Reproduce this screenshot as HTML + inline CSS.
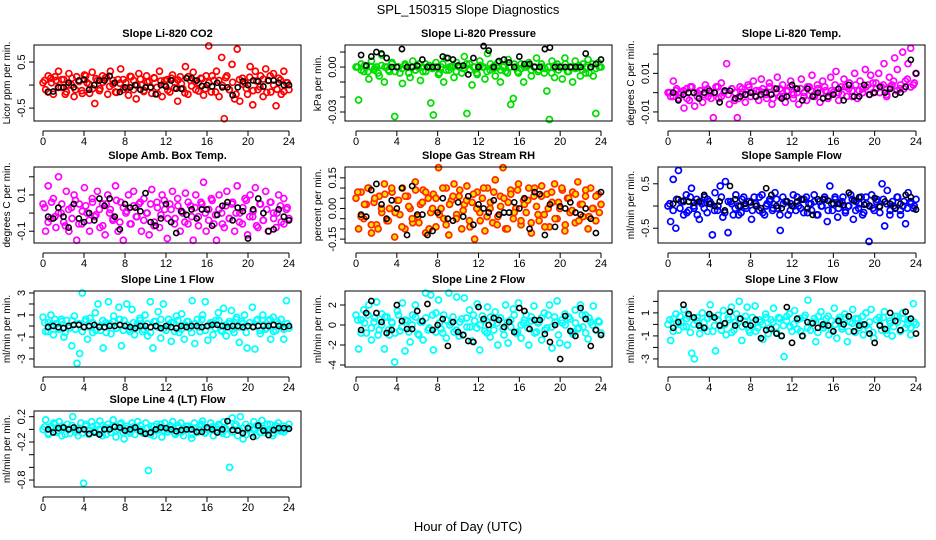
<!DOCTYPE html>
<html><head><meta charset="utf-8">
<style>
html,body{margin:0;padding:0;background:#fff;}
svg{display:block;font-family:"Liberation Sans",sans-serif;}
</style></head>
<body>
<svg id="chart" width="936" height="540" viewBox="0 0 936 540">
<rect x="0" y="0" width="936" height="540" fill="#fff"/>
<text x="468" y="14" text-anchor="middle" font-size="13">SPL_150315  Slope Diagnostics</text>
<text x="468" y="531" text-anchor="middle" font-size="13">Hour of Day (UTC)</text>
</svg>
<script>
const co2Vals=[0.05,-0.1,0.2,0.15,-0.2,0.1,0.3,-0.05,0.12,-0.15,0.25,0.0,-0.25,0.18,0.08,-0.12,0.22,0.05,-0.18,0.28,-0.4,0.1,-0.08,0.2,0.15,-0.2,0.3,0.02,-0.15,0.12,0.35,-0.1,0.05,-0.22,0.18,0.1,-0.3,0.25,0.0,-0.12,0.2,0.08,-0.18,0.15,-0.05,0.3,-0.25,0.1,0.12,-0.15,0.22,0.05,-0.35,0.18,-0.08,0.4,-0.2,0.1,0.28,-0.1,0.05,0.15,-0.22,0.2,0.85,-0.15,0.1,0.3,-0.25,0.6,-0.73,0.2,-0.1,0.45,-0.3,0.78,-0.35,0.15,0.05,-0.2,0.4,-0.43,0.3,-0.1,0.2,-0.25,0.35,0.1,-0.15,0.25,-0.45,0.15,-0.2,0.3,0.05,-0.1];
const co2Core=[0.1,-0.15,0.05,0.18,-0.05,0.12,-0.2,0.0,0.15,-0.1,0.08,-0.18,0.2,0.02,-0.08,0.14,-0.12,0.06,0.17,-0.03,0.1,-0.16,0.04,0.12,-0.07,0.19,-0.1,0.0,0.13,-0.14,0.07,-0.04,0.16,-0.19,0.09,0.01,-0.11,0.15,-0.06,0.11,0.03,-0.17,0.18,-0.02,0.08,-0.13,0.14,-0.08,0.05,0.2,-0.15,0.1,-0.01,0.16,-0.1,0.06,-0.2,0.12,0.02,-0.07,0.17,-0.12,0.09,-0.04,0.13,-0.16,0.2,0.0,-0.09,0.11,-0.14,0.05];
const co2Black=[-0.15,-0.14,-0.05,-0.05,0.05,-0.05,0.1,0.12,-0.1,0.0,0.1,0.1,0.2,0.05,-0.15,-0.05,-0.05,0.0,-0.1,-0.05,-0.05,-0.2,0.0,-0.03,0.1,-0.08,-0.08,0.15,0.15,0.1,-0.02,0.0,-0.03,0.05,-0.05,-0.05,-0.22,-0.05,0.08,0.0,0.1,0.08,-0.03,0.1,0.1,0.05,0.0,0.0];
const presVals=[0.0,-0.022,0.002,-0.003,0.0,-0.008,0.004,-0.002,0.0,-0.006,0.008,-0.01,0.0,-0.003,0.003,-0.033,0.0,-0.004,-0.011,0.002,0.0,-0.007,0.004,-0.002,0.0,-0.009,-0.003,0.002,0.0,-0.024,-0.032,0.003,-0.005,0.0,-0.01,0.006,-0.002,0.0,-0.007,0.003,0.0,-0.004,0.007,-0.031,0.002,-0.012,0.0,-0.005,0.004,0.0,-0.008,0.009,-0.002,0.0,-0.006,0.003,-0.01,0.0,-0.003,0.005,-0.025,-0.021,0.0,-0.004,0.002,-0.01,0.0,0.003,-0.006,0.0,0.006,-0.002,0.0,-0.004,-0.016,-0.035,0.004,-0.007,0.002,0.0,-0.008,0.006,-0.003,0.0,-0.01,0.004,0.0,-0.006,0.002,-0.004,0.005,0.0,-0.006,-0.031,0.003,0.0];
const presCore=[0.0,-0.002,0.001,-0.003,0.0,-0.001,-0.004,0.001,0.0,-0.002,0.002,-0.003,0.0,-0.001,0.001,-0.004,0.0,-0.002,0.002,0.0,-0.003,0.001,-0.001,0.0,-0.004,0.002,-0.002,0.0,0.001,-0.003,0.0,-0.001,0.002,-0.002,0.0,-0.004,0.001,0.0,-0.003,0.002,-0.001,0.0,-0.002,0.001,-0.004,0.0,0.002,-0.003,-0.001,0.0,0.001,-0.002,0.0,-0.003,0.002,-0.001,0.0,-0.004,0.001,-0.002,0.0,0.002,-0.003,0.0,-0.001,0.001,-0.002,0.0,-0.004,0.002,-0.001,0.0];
const presBlack=[0.008,0.001,0.007,0.01,0.009,0.006,0.0,0.0,0.012,0.0,0.0,0.001,0.005,0.0,0.0,0.0,0.007,0.006,0.005,0.001,0.001,-0.005,0.006,0.0,0.014,0.011,0.0,0.004,0.005,0.003,0.0,0.007,0.002,0.002,0.0,0.0,0.012,0.013,0.0,0.0,0.0,0.0,0.0,0.0,0.009,0.0,0.002,0.005];
const liTempVals=[0.0,-0.002,0.006,0.001,-0.003,0.0,-0.008,0.002,-0.004,0.003,-0.007,0.0,0.001,-0.005,0.004,-0.002,0.0,-0.013,0.003,-0.003,0.005,0.0,0.015,-0.006,0.002,-0.004,-0.013,0.003,0.0,-0.005,0.004,-0.002,0.006,0.001,-0.004,0.007,0.0,-0.003,0.005,-0.006,0.002,0.008,-0.002,0.004,-0.005,0.001,0.006,-0.003,0.002,-0.006,0.007,0.0,-0.004,0.003,0.009,-0.002,0.004,-0.005,0.006,0.001,-0.003,0.008,0.0,0.011,-0.004,0.003,0.007,-0.002,0.005,0.001,0.01,-0.003,0.006,0.002,0.012,0.004,0.009,0.0,0.005,0.01,0.003,0.015,-0.002,0.008,0.004,0.018,0.012,0.002,0.021,0.006,0.015,0.023,0.004,0.01];
const liTempCore=[0.0,-0.002,0.002,-0.001,0.001,-0.003,0.003,0.0,-0.002,0.001,-0.001,0.002,-0.003,0.0,0.003,-0.002,0.001,-0.001,0.002,0.0,-0.003,0.002,-0.001,0.003,0.0,-0.002,0.001,0.002,-0.001,0.003,-0.003,0.0,0.002,-0.002,0.001,0.003,-0.001,0.0,0.002,-0.002,0.003,0.001,-0.001,0.002,0.0,0.003,-0.002,0.001,0.004,0.0,-0.001,0.003,0.002,-0.002,0.004,0.001,0.0,0.003,-0.001,0.005,0.002,0.0,0.004,-0.001,0.003,0.006,0.001,0.004,0.002,0.007,0.003,0.005];
const liTempBlack=[0.0,-0.004,-0.001,0.0,0.0,-0.003,0.0,0.001,0.0,-0.005,0.001,0.001,-0.003,-0.002,-0.001,0.0,-0.002,-0.001,0.0,-0.001,0.002,-0.003,-0.002,0.004,0.002,-0.004,0.002,-0.002,0.0,-0.003,-0.002,-0.001,0.002,-0.004,0.004,-0.002,-0.002,0.004,-0.001,0.0,0.003,0.0,0.002,-0.001,0.0,0.003,0.017,0.01];
const boxTempVals=[0.05,-0.1,0.15,-0.03,0.08,-0.08,0.2,0.0,-0.05,0.12,-0.1,0.03,0.1,-0.15,0.05,-0.06,0.14,0.0,-0.1,0.08,-0.02,0.12,-0.08,0.05,-0.12,0.1,0.02,-0.04,0.15,-0.1,0.06,-0.15,0.0,0.1,-0.06,0.12,-0.02,0.05,-0.1,0.08,0.0,-0.12,0.13,-0.05,0.06,-0.08,0.1,0.02,-0.14,0.05,0.12,-0.03,0.08,-0.1,0.0,0.11,-0.06,0.04,-0.15,0.1,-0.02,0.06,0.17,-0.1,0.02,0.08,-0.06,-0.15,0.1,0.0,-0.08,0.12,-0.03,0.05,-0.1,0.15,0.0,-0.06,0.08,-0.12,0.1,-0.02,0.14,-0.08,0.05,-0.04,0.12,-0.1,0.06,0.0,-0.08,0.1,-0.05,0.08,0.02,-0.03];
const boxTempCore=[0.03,-0.05,0.06,-0.02,0.0,0.05,-0.07,0.02,-0.03,0.07,-0.06,0.01,0.04,-0.04,0.06,-0.01,0.02,-0.07,0.05,0.0,-0.03,0.07,-0.05,0.03,0.01,-0.06,0.04,-0.02,0.06,-0.04,0.0,0.05,-0.07,0.03,-0.01,0.07,-0.03,0.02,-0.06,0.04,0.01,-0.05,0.06,-0.02,0.03,-0.07,0.05,0.0,-0.04,0.07,-0.01,0.02,-0.06,0.04,-0.03,0.06,0.0,-0.05,0.03,0.07,-0.02,0.01,-0.07,0.05,-0.04,0.02,0.06,-0.03,0.0,0.04,-0.06,0.03];
const boxTempBlack=[-0.02,-0.03,0.03,-0.02,-0.08,0.05,-0.03,-0.05,0.0,-0.04,0.08,0.04,0.08,-0.02,-0.09,0.05,0.03,0.03,0.01,0.11,-0.05,-0.07,-0.03,0.05,-0.05,-0.11,0.01,-0.01,0.02,-0.03,0.02,0.02,-0.07,-0.01,0.04,0.06,-0.04,0.03,0.01,-0.14,0.02,0.08,0.0,-0.1,-0.09,0.02,-0.02,-0.04];
const rhVals=[0.05,-0.1,0.08,-0.05,0.02,0.1,-0.12,0.03,-0.08,0.06,-0.02,0.12,-0.06,0.0,0.08,-0.14,0.04,-0.03,0.1,-0.1,0.06,0.0,-0.07,0.13,-0.04,0.02,0.09,-0.12,0.05,-0.02,0.07,-0.09,0.2,0.0,-0.05,0.1,-0.13,0.04,0.12,-0.03,0.06,-0.1,0.02,0.11,-0.06,0.03,-0.15,0.08,-0.02,0.05,-0.11,0.1,0.0,-0.07,0.14,-0.04,0.06,0.2,-0.1,0.03,0.09,-0.05,0.0,0.12,-0.08,0.04,-0.02,0.1,-0.12,0.06,0.01,-0.06,0.11,-0.03,0.07,-0.09,0.03,0.12,-0.05,0.0,0.09,-0.11,0.05,-0.02,0.08,-0.07,0.13,0.02,-0.04,0.06,-0.1,0.1,0.0,-0.06,0.07,0.02];
const rhCore=[0.08,-0.04,0.02,0.1,-0.08,0.05,-0.1,0.0,0.07,-0.06,0.1,-0.02,0.04,-0.09,0.06,0.01,-0.05,0.09,-0.07,0.03,0.08,-0.1,0.0,0.05,-0.03,0.1,-0.08,0.02,0.06,-0.05,0.09,-0.01,0.04,-0.09,0.07,0.0,-0.06,0.1,-0.04,0.03,0.08,-0.08,0.01,0.05,-0.1,0.07,-0.02,0.09,-0.06,0.02,0.04,-0.07,0.1,-0.03,0.06,-0.09,0.0,0.08,-0.05,0.03,0.1,-0.08,0.05,-0.01,0.07,-0.06,0.02,0.09,-0.04,0.0,0.06,-0.02];
const rhBlack=[-0.03,-0.04,0.09,0.12,0.02,-0.05,0.04,0.0,0.1,-0.13,0.11,-0.03,-0.03,-0.13,-0.11,-0.02,0.05,-0.05,-0.06,0.03,-0.04,0.06,-0.08,0.02,0.0,-0.02,0.04,-0.03,-0.02,-0.02,0.03,0.0,0.05,-0.1,0.08,0.07,-0.13,0.02,-0.09,0.01,0.0,0.03,-0.02,-0.03,0.0,-0.05,-0.12,0.08];
const sampleVals=[0.0,-0.35,0.6,-0.5,0.8,0.1,-0.2,0.25,-0.1,0.4,-0.05,0.15,-0.3,0.05,0.2,-0.15,0.1,-0.65,0.3,-0.1,0.45,-0.25,0.55,-0.6,0.1,-0.2,0.25,0.0,-0.15,0.2,-0.05,0.1,-0.3,0.2,0.0,-0.1,0.25,-0.2,0.05,0.15,-0.1,0.3,-0.05,-0.55,0.2,0.1,-0.2,0.05,0.25,-0.1,0.0,0.15,-0.15,0.2,0.05,-0.1,0.25,-0.2,0.1,0.0,0.2,-0.35,0.45,-0.1,0.15,-0.25,0.05,0.2,-0.1,0.0,0.25,-0.3,0.1,-0.05,0.2,-0.15,0.05,-0.8,0.25,-0.1,0.15,0.0,0.5,-0.45,0.35,-0.2,0.1,-0.05,0.2,-0.1,0.0,-0.4,0.3,0.1,-0.05,0.15];
const sampleCore=[0.05,-0.1,0.15,-0.05,0.1,-0.15,0.2,0.0,-0.2,0.1,-0.05,0.15,0.05,-0.1,0.0,0.2,-0.15,0.1,0.05,-0.05,-0.2,0.15,0.0,0.1,-0.1,0.05,0.2,-0.15,0.0,0.1,-0.05,0.15,-0.2,0.05,0.1,-0.1,0.0,0.2,-0.05,0.15,-0.15,0.05,0.1,-0.2,0.0,0.15,-0.1,0.05,0.2,-0.05,0.1,-0.15,0.0,0.15,-0.1,0.05,-0.2,0.2,0.0,-0.05,0.1,-0.15,0.15,0.05,-0.1,0.0,0.2,-0.2,0.1,-0.05,0.05,0.0];
const sampleBlack=[0.05,0.15,0.12,0.1,0.08,0.1,0.25,0.05,0.0,0.1,-0.1,0.45,0.15,0.0,0.05,0.08,0.0,-0.05,0.4,0.25,0.0,-0.05,0.1,0.0,0.1,0.15,-0.05,-0.2,0.15,0.15,0.12,0.05,0.05,0.02,0.3,0.12,0.2,0.03,0.0,0.18,-0.02,0.1,0.05,-0.05,0.05,0.25,0.2,-0.08];
const line1Vals=[0.8,-0.5,0.3,1.0,-0.8,0.2,-0.3,0.6,-1.0,0.5,-0.2,-1.8,0.9,-3.4,-2.5,3.0,0.4,-1.2,0.7,-0.6,1.2,2.0,-0.4,-2.0,0.3,2.2,-0.7,0.9,-0.2,1.7,-1.8,0.5,2.0,-0.3,1.5,-0.8,0.2,0.7,-0.5,1.0,-0.9,2.2,-2.0,0.4,1.3,-1.1,2.0,-0.4,0.6,-1.4,0.3,0.9,-0.6,1.1,-1.2,0.4,-0.2,2.3,-1.6,0.6,-0.5,1.0,2.2,-1.3,0.3,-0.8,0.5,1.2,-0.4,1.6,-0.9,0.2,1.4,-0.6,0.8,-1.5,0.4,1.0,-2.0,0.3,1.7,-2.1,0.6,-0.7,1.0,-0.3,0.5,-1.2,0.8,-0.4,0.2,0.6,-1.2,2.3,-0.2];
const line1Core=[0.3,-0.5,0.1,0.6,-0.2,0.4,-0.6,0.0,0.5,-0.3,0.2,-0.5,0.6,-0.1,0.3,-0.4,0.0,0.5,-0.6,0.2,0.4,-0.2,0.6,-0.4,0.1,-0.5,0.3,0.0,0.5,-0.3,0.2,-0.6,0.4,-0.1,0.6,-0.2,0.0,0.3,-0.5,0.5,-0.3,0.1,0.4,-0.6,0.2,-0.1,0.6,-0.4,0.0,0.3,-0.2,0.5,-0.5,0.1,0.4,-0.3,0.6,-0.1,0.2,-0.6,0.3,0.0,0.5,-0.4,0.1,-0.2,0.6,-0.5,0.4,0.0,-0.3,0.2];
const line1Black=[-0.1,0.0,-0.1,-0.2,0.0,0.1,0.1,-0.1,0.0,0.1,-0.1,-0.1,0.0,0.0,0.1,0.0,-0.1,-0.2,0.0,0.0,-0.1,0.0,-0.2,0.0,-0.1,-0.2,0.0,-0.1,0.0,0.0,-0.1,0.0,0.1,0.1,0.0,-0.1,0.0,0.0,-0.1,0.0,-0.1,0.0,0.0,0.0,0.1,0.0,-0.1,0.0];
const line2Vals=[1.0,-2.4,0.5,1.5,-0.8,2.0,-1.5,0.3,2.3,-0.5,1.1,-2.4,0.8,-1.0,0.2,-3.7,1.4,-0.6,2.2,-2.6,0.4,-1.7,1.0,2.0,-0.9,0.3,-1.5,3.2,-0.5,3.0,-2.5,1.2,2.5,-0.4,1.0,-1.3,3.2,0.2,-0.7,2.8,-1.1,0.6,2.7,-0.2,1.5,-1.6,0.4,2.1,-2.5,0.9,-0.6,1.8,-1.2,0.3,1.3,-2.0,0.7,-0.4,2.0,-1.8,0.5,1.6,-0.8,2.2,-1.3,0.2,1.0,-2.0,0.4,1.9,-0.7,0.3,-1.5,1.2,-0.3,2.0,-2.3,0.8,2.4,-1.8,0.2,1.1,-2.0,0.6,-0.9,1.5,-0.4,2.0,-0.2,1.0,-1.4,0.3,1.9,-0.5,0.4,-0.8];
const line2Core=[0.5,-0.8,0.2,1.0,-0.3,0.7,-1.0,0.0,0.8,-0.5,0.3,-0.8,1.0,-0.2,0.5,-0.7,0.0,0.8,-1.0,0.3,0.7,-0.3,1.0,-0.7,0.2,-0.8,0.5,0.0,0.8,-0.5,0.3,-1.0,0.7,-0.2,1.0,-0.3,0.0,0.5,-0.8,0.8,-0.5,0.2,0.7,-1.0,0.3,-0.2,1.0,-0.7,0.0,0.5,-0.3,0.8,-0.8,0.2,0.7,-0.5,1.0,-0.2,0.3,-1.0,0.5,0.0,0.8,-0.7,0.2,-0.3,1.0,-0.8,0.7,0.0,-0.5,0.3];
const line2Black=[-0.5,1.2,2.4,1.2,0.3,-0.8,-0.5,2.0,0.4,-0.4,-0.4,1.4,0.4,2.1,-0.5,0.0,0.6,-2.1,0.3,-0.7,-1.0,-1.6,-1.7,1.8,0.6,0.0,0.7,0.5,-0.2,0.3,-0.7,1.7,1.4,-0.4,0.5,0.5,-0.9,-1.7,0.0,-3.4,0.9,-0.6,-1.1,1.7,0.6,-2.1,-0.5,-1.0];
const line3Vals=[0.0,-1.4,0.5,0.9,-0.5,0.2,1.3,-0.2,0.7,-2.5,-3.0,0.3,-0.8,1.0,-0.3,0.5,1.7,-0.6,-2.3,0.8,-0.1,1.2,-0.9,0.4,1.5,-0.5,0.9,2.0,-1.4,0.3,1.5,-0.7,0.6,1.6,-0.3,0.2,-1.3,0.9,-0.8,0.4,1.4,-0.2,0.6,-1.0,-2.8,0.3,0.9,-0.6,1.2,-0.4,0.5,-1.0,0.8,2.1,-0.5,0.2,-1.5,0.7,1.1,-0.3,0.5,-0.9,0.3,1.4,-1.2,0.6,-0.4,0.9,-1.5,0.2,1.3,-0.7,0.5,0.0,-0.9,1.0,-0.4,1.3,-1.2,0.4,0.6,-0.5,1.1,-0.8,0.3,-1.0,0.7,0.2,-0.6,1.0,-0.3,0.4,-0.9,1.8,0.0];
const line3Core=[0.4,-0.6,0.1,0.7,-0.2,0.5,-0.7,0.0,0.6,-0.3,0.2,-0.6,0.7,-0.1,0.4,-0.5,0.0,0.6,-0.7,0.2,0.5,-0.2,0.7,-0.5,0.1,-0.6,0.4,0.0,0.6,-0.3,0.2,-0.7,0.5,-0.1,0.7,-0.2,0.0,0.4,-0.6,0.6,-0.3,0.1,0.5,-0.7,0.2,-0.1,0.7,-0.5,0.0,0.4,-0.2,0.6,-0.6,0.1,0.5,-0.3,0.7,-0.1,0.2,-0.7,0.4,0.0,0.6,-0.5,0.1,-0.2,0.7,-0.6,0.5,0.0,-0.3,0.2];
const line3Black=[-0.3,0.2,1.7,0.9,0.6,-0.1,-0.3,0.9,0.6,-0.1,0.1,1.1,-0.1,0.5,0.0,-0.1,0.4,-1.2,-0.5,-0.4,-0.8,-1.0,1.5,-1.6,0.5,-1.0,0.2,0.1,-0.3,0.0,-0.1,-0.6,0.3,0.0,0.7,-0.6,-0.1,0.0,-0.8,-1.6,-0.1,-0.4,1.0,0.3,-0.5,1.1,0.5,-0.8];
const line4Vals=[0.0,0.15,-0.08,0.05,0.1,-0.05,0.12,-0.1,0.02,0.08,-0.06,0.2,0.0,-0.1,0.1,-0.85,0.05,-0.08,0.12,-0.02,0.06,0.13,-0.1,0.03,0.08,-0.05,0.15,-0.12,0.0,0.1,-0.15,0.05,-0.03,0.1,-0.08,0.12,0.0,-0.06,0.1,-0.65,0.05,-0.1,0.08,0.0,-0.12,0.1,-0.04,0.06,0.12,-0.08,0.02,0.1,-0.1,0.05,0.0,-0.14,0.1,-0.05,0.07,0.13,-0.06,0.0,0.1,-0.1,0.04,0.08,-0.03,0.12,-0.08,-0.6,0.18,0.05,-0.1,0.2,-0.15,0.08,0.0,-0.06,0.12,-0.1,0.03,0.14,-0.05,0.08,0.0,-0.1,0.06,0.1,-0.03,0.05,0.0,0.08];
const line4Core=[0.04,-0.06,0.01,0.08,-0.02,0.05,-0.08,0.0,0.06,-0.04,0.02,-0.06,0.08,-0.01,0.04,-0.05,0.0,0.06,-0.08,0.02,0.05,-0.02,0.08,-0.05,0.01,-0.06,0.04,0.0,0.06,-0.04,0.02,-0.08,0.05,-0.01,0.08,-0.02,0.0,0.04,-0.06,0.06,-0.04,0.01,0.05,-0.08,0.02,-0.01,0.08,-0.05,0.0,0.04,-0.02,0.06,-0.06,0.01,0.05,-0.04,0.08,-0.01,0.02,-0.08,0.04,0.0,0.06,-0.05,0.01,-0.02,0.08,-0.06,0.05,0.0,-0.04,0.02];
const line4Black=[0.0,-0.05,0.02,0.03,0.0,0.03,-0.01,0.0,-0.07,-0.05,-0.08,0.0,0.0,0.04,0.03,-0.02,0.0,0.03,-0.03,-0.07,-0.05,0.0,0.03,0.02,0.0,-0.03,-0.01,0.0,0.0,-0.04,-0.04,0.03,0.0,-0.05,0.0,0.13,-0.01,-0.02,-0.06,0.02,-0.12,0.06,-0.02,-0.09,-0.01,0.02,0.02,0.01];
const xTicks=[0,4,8,12,16,20,24];

const NS='http://www.w3.org/2000/svg';
const svg=document.getElementById('chart');
function mk(tag,attrs,parent){const e=document.createElementNS(NS,tag);for(const k in attrs)e.setAttribute(k,attrs[k]);(parent||svg).appendChild(e);return e;}

const cols=[{l:34,r:301,x0:43,x24:289},{l:345,r:612,x0:356,x24:601},{l:658,r:925,x0:668,x24:916}];
const rows=[45,167,291,411];
const H=76;
const panels=[
{t:'Slope Li-820 CO2',yl:'Licor ppm per min.',v:co2Vals,k:co2Core,b:co2Black,c:'#ff0000',f:'none',min:-0.78,max:0.87,ticks:[-0.5,0,0.5],labs:['-0.5','0.5'],name:'co2'},
{t:'Slope Li-820 Pressure',yl:'kPa per min.',v:presVals,k:presCore,b:presBlack,c:'#00dd00',f:'none',min:-0.036,max:0.0147,ticks:[-0.03,-0.02,-0.01,0,0.01],labs:['-0.03','0.00'],name:'pressure'},
{t:'Slope Li-820 Temp.',yl:'degrees C per min.',v:liTempVals,k:liTempCore,b:liTempBlack,c:'#ff00ff',f:'none',min:-0.0147,max:0.0247,ticks:[-0.01,0,0.01,0.02],labs:['-0.01','0.01'],name:'li-temp'},
{t:'Slope Amb. Box Temp.',yl:'degrees C per min.',v:boxTempVals,k:boxTempCore,b:boxTempBlack,c:'#ff00ff',f:'none',min:-0.165,max:0.254,ticks:[-0.1,0,0.1,0.2],labs:['-0.1','0.1'],name:'box-temp'},
{t:'Slope Gas Stream RH',yl:'percent per min.',v:rhVals,k:rhCore,b:rhBlack,c:'#ff2a00',f:'#ffdd00',min:-0.169,max:0.203,ticks:[-0.15,-0.1,-0.05,0,0.05,0.1,0.15],labs:['-0.15','0.00','0.15'],name:'rh'},
{t:'Slope Sample Flow',yl:'ml/min per min.',v:sampleVals,k:sampleCore,b:sampleBlack,c:'#0000ff',f:'none',min:-0.833,max:0.878,ticks:[-0.5,0,0.5],labs:['-0.5','0.5'],name:'sample-flow'},
{t:'Slope Line 1 Flow',yl:'ml/min per min.',v:line1Vals,k:line1Core,b:line1Black,c:'#00ffff',f:'none',min:-3.73,max:3.18,ticks:[-3,-2,-1,0,1,2,3],labs:['-3','-1','1','3'],name:'line1'},
{t:'Slope Line 2 Flow',yl:'ml/min per min.',v:line2Vals,k:line2Core,b:line2Black,c:'#00ffff',f:'none',min:-4.2,max:3.4,ticks:[-4,-2,0,2],labs:['-4','-2','0','2'],name:'line2'},
{t:'Slope Line 3 Flow',yl:'ml/min per min.',v:line3Vals,k:line3Core,b:line3Black,c:'#00ffff',f:'none',min:-3.7,max:2.9,ticks:[-3,-2,-1,0,1,2],labs:['-3','-1','1'],name:'line3'},
{t:'Slope Line 4 (LT) Flow',yl:'ml/min per min.',v:line4Vals,k:line4Core,b:line4Black,c:'#00ffff',f:'none',min:-0.91,max:0.29,ticks:[-0.8,-0.6,-0.4,-0.2,0,0.2],labs:['-0.8','-0.2','0.2'],name:'line4'}
];

panels.forEach((p,i)=>{
  const col=cols[i%3], top=rows[Math.floor(i/3)], bot=top+H;
  const g=mk('g',{});
  
  
  const xs=h=>col.x0+(col.x24-col.x0)*h/24;
  const ys=v=>bot-(v-p.min)/(p.max-p.min)*H;
  const title=mk('text',{x:(col.l+col.r)/2,y:top-8,'text-anchor':'middle','font-size':11,'font-weight':'bold'},g);
  title.textContent=p.t;
  
  
  const pts=mk('g',{},g);
  
  
  const n=p.v.length;
  p.v.forEach((v,k)=>{
    const c=mk('circle',{cx:xs(k*24/(n-1)),cy:ys(v),r:3,fill:p.f,stroke:p.c,'stroke-width':1.7},pts);
    
    
  });
  const nk=p.k.length;
  p.k.forEach((v,k)=>{
    const c=mk('circle',{cx:xs((k+0.5)*24/nk),cy:ys(v),r:3,fill:p.f,stroke:p.c,'stroke-width':1.7},pts);
    
    
  });
  const bp=mk('g',{},g);
  
  
  const nb=p.b.length;
  p.b.forEach((v,k)=>{
    const c=mk('circle',{cx:xs(0.5+k*23.5/(nb-1)),cy:ys(v),r:2.6,fill:'none',stroke:'#000','stroke-width':1.6},bp);
    
    
  });
  const box=mk('rect',{x:col.l,y:top,width:col.r-col.l,height:H,fill:'none',stroke:'#000','stroke-width':1},g);
  
  
  const ax=mk('g',{},g);
  
  
  mk('line',{x1:xs(0),x2:xs(24),y1:bot+10,y2:bot+10,stroke:'#000'},ax);
  xTicks.forEach(h=>{
    mk('line',{x1:xs(h),x2:xs(h),y1:bot+10,y2:bot+15,stroke:'#000'},ax);
    const t=mk('text',{x:xs(h),y:bot+24,'text-anchor':'middle','font-size':11},ax);
    t.textContent=h;
  });
  const ay=mk('g',{},g);
  
  
  p.ticks.forEach(v=>{
    mk('line',{x1:col.l-5,x2:col.l,y1:ys(v),y2:ys(v),stroke:'#000'},ay);
  });
  p.labs.forEach(s=>{
    const y=ys(parseFloat(s));
    const t=mk('text',{x:col.l-9,y:y,'text-anchor':'middle','font-size':11,transform:`rotate(-90 ${col.l-9} ${y})`},ay);
    t.textContent=s;
  });
  const yt=mk('text',{x:col.l-24,y:top+H/2,'text-anchor':'middle','font-size':10,transform:`rotate(-90 ${col.l-24} ${top+H/2})`},g);
  yt.textContent=p.yl;
  
  
});
</script>
</body></html>
